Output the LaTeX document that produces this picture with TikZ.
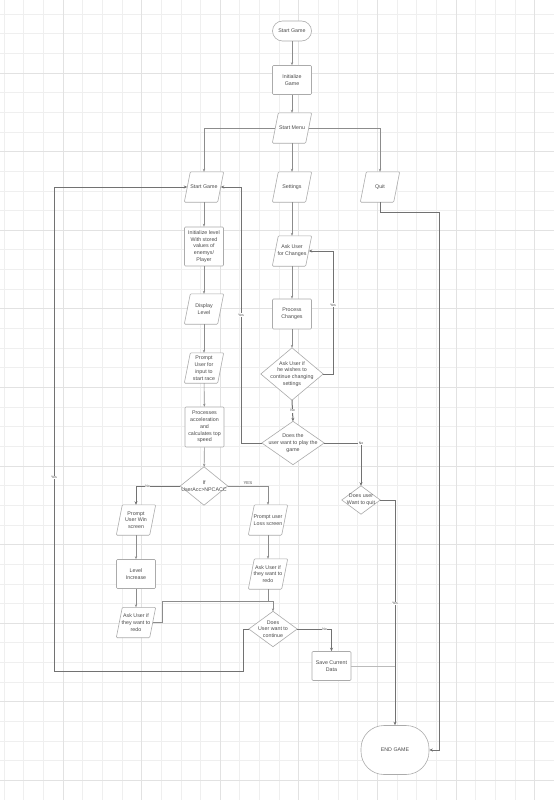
\documentclass[tikz,border=0pt]{standalone}
\usepackage{fontspec}
\setmainfont{Liberation Sans}
\usetikzlibrary{arrows.meta,calc}
\definecolor{gridminor}{HTML}{EFEFEF}
\definecolor{gridmajor}{HTML}{E2E2E2}
\definecolor{shapeline}{HTML}{ABABAB}
\definecolor{txt}{HTML}{4A4A4A}
\definecolor{connl}{HTML}{8C8C8C}
\definecolor{connd}{HTML}{727272}
\definecolor{connf}{HTML}{BBBBBB}
\pgfdeclarelayer{bg}
\pgfdeclarelayer{shapes}
\pgfsetlayers{bg,shapes,main}
\begin{document}
\begin{tikzpicture}[x=1pt,y=-1pt,
  box/.style={font=\fontsize{5.3}{6.8}\selectfont, text=txt, align=center, inner sep=0pt},
  proc/.style={box, draw=shapeline, fill=white, line width=0.6pt, rounded corners=1pt, minimum width=39pt, minimum height=29pt},
  term/.style={box, draw=shapeline, fill=white, line width=0.6pt, rounded corners=10pt, minimum width=39pt, minimum height=20pt},
  iobox/.style={box, minimum width=33pt, minimum height=30pt},
  decbox/.style={box},
  outline/.style={draw=shapeline, fill=white, line width=0.6pt},
  lconn/.style={draw=connl, line width=0.6pt, -{Stealth[length=3pt,width=2.4pt]}},
  dconn/.style={draw=connd, line width=1pt, -{Stealth[length=3.5pt,width=3pt]}},
  fconn/.style={draw=connf, line width=0.6pt},
  lab/.style={font=\fontsize{3.5}{4}\selectfont, text=txt, fill=white, inner sep=0.6pt},
  labnf/.style={font=\fontsize{4.2}{5}\selectfont, text=txt, inner sep=0.6pt}
]
\useasboundingbox (0,0) rectangle (554,800);
\begin{pgfonlayer}{bg}
  \fill[white] (0,0) rectangle (554,800);
  \foreach \k in {-3,...,24} {
    \pgfmathsetmacro\gx{63+19.65*\k}
    \draw[gridminor, line width=0.8pt] (\gx,0) -- (\gx,800);
  }
  \foreach \k in {-3,...,36} {
    \pgfmathsetmacro\gy{73+19.65*\k}
    \draw[gridminor, line width=0.8pt] (0,\gy) -- (554,\gy);
  }
  \foreach \k in {0,...,6} {
    \pgfmathsetmacro\gx{63+78.6*\k}
    \draw[gridmajor, line width=1pt] (\gx,0) -- (\gx,800);
  }
  \foreach \k in {0,...,9} {
    \pgfmathsetmacro\gy{73+78.6*\k}
    \draw[gridmajor, line width=1pt] (0,\gy) -- (554,\gy);
  }
\end{pgfonlayer}

% nodes
\node[term] (start) at (292,31) {Start Game};
\node[proc] (init) at (292,80) {Initialize\\Game};
\node[iobox] (menu) at (292,128) {Start Menu};
\node[iobox] (sg) at (204,187) {Start Game};
\node[iobox] (set) at (292,187) {Settings};
\node[iobox] (quit) at (380,187) {Quit};
\node[proc, minimum height=39pt] (ilvl) at (204,246.5) {Initialize level\\With stored\\values of\\enemys/\\Player};
\node[iobox] (disp) at (204,309) {Display\\Level};
\node[iobox] (prompt) at (204,368) {Prompt\\User for\\input to\\start race};
\node[proc, minimum height=40pt] (procacc) at (204.5,427) {Processes\\acceleration\\and\\calculates top\\speed};
\node[decbox, minimum width=47pt, minimum height=38pt] (ifd) at (204,486) {If\\UserAcc>NPCACC};
\node[iobox] (win) at (136,520) {Prompt\\User Win\\screen};
\node[proc] (lvlinc) at (136,574) {Level\\Increase};
\node[iobox] (redo1) at (136,622.5) {Ask User if\\they want to\\redo};
\node[iobox] (loss) at (268,520) {Prompt user\\Loss screen};
\node[iobox] (redo2) at (268,574) {Ask User if\\they want to\\redo};
\node[decbox, minimum width=48pt, minimum height=35pt] (cont) at (273,629) {Does\\User want to\\continue};
\node[proc] (save) at (331.5,666) {Save Current\\Data};
\node[term, minimum width=68pt, minimum height=49pt, rounded corners=23pt] (endg) at (395,750) {END GAME};
\node[iobox] (ask) at (292,251) {Ask User\\for Changes};
\node[proc, minimum height=30pt] (pchg) at (292,314) {Process\\Changes};
\node[decbox, minimum width=62pt, minimum height=52pt] (wish) at (292,374) {Ask User if\\he wishes to\\continue changing\\settings};
\node[decbox, minimum width=62pt, minimum height=43pt] (play) at (293,443) {Does the\\user want to play the\\game};
\node[decbox, minimum width=38pt, minimum height=28pt] (wquit) at (361,500) {Does user\\Want to quit};

% outlines of parallelograms and diamonds
\begin{pgfonlayer}{shapes}
  \foreach \n in {menu,sg,set,quit,disp,prompt,win,redo1,loss,redo2,ask} {
    \draw[outline, rounded corners=1pt] ([xshift=3pt]\n.north west) -- ([xshift=3pt]\n.north east)
      -- ([xshift=-3pt]\n.south east) -- ([xshift=-3pt]\n.south west) -- cycle;
  }
  \foreach \n in {ifd,cont,wish,play,wquit} {
    \draw[outline] (\n.north) -- (\n.east) -- (\n.south) -- (\n.west) -- cycle;
  }
\end{pgfonlayer}

% helper coordinates
\coordinate (mg) at (273,601);
\coordinate (cl1) at (243,671);
\coordinate (cl2) at (54,671);
\coordinate (pl) at (241,443);
\coordinate (wr) at (333,374);
\coordinate (qc) at (439,212);

% connectors
\draw[lconn] (start) -- (init);
\draw[lconn] (init) -- (menu);
\draw[lconn] (menu.west) -| (sg.north);
\draw[lconn] (menu.south) -- (set.north);
\draw[lconn] (menu.east) -| (quit.north);

\draw[lconn] (sg) -- (ilvl);
\draw[lconn] (ilvl) -- (disp);
\draw[lconn] (disp) -- (prompt);
\draw[lconn] (prompt) -- (procacc);
\draw[lconn] (procacc) -- (ifd);
\draw[dconn] (ifd.west) -| (win.north) node[lab, pos=0.37] {No};
\draw[lconn] (ifd.east) -| (loss.north) node[labnf, pos=0.25, above=0.3pt] {YES};
\draw[lconn] (win) -- (lvlinc);
\draw[lconn] (lvlinc) -- (redo1);
\draw[lconn] (loss) -- (redo2);
\draw[lconn] (redo2.south) |- (mg) -- (cont.north);
\draw[fconn, draw=connl] (redo1.east) -- ++(9.5,0) |- (mg);
\draw[dconn] (cont.west) -| (cl1) -- (cl2) |- (sg.west) node[lab, pos=0.2] {Yes};
\draw[dconn] (cont.east) -| (save.north) node[lab, pos=0.4] {No};
\draw[fconn] (save.east) -- (save.east -| endg.north);

\draw[lconn] (set) -- (ask);
\draw[lconn] (ask) -- (pchg);
\draw[lconn] (pchg) -- (wish);
\draw[dconn] (wish.east) -- (wr) |- (ask.east) node[lab, pos=0.28] {Yes};
\draw[dconn] (wish.south) -- (play.north) node[lab, midway] {No};
\draw[dconn] (play.west) -- (pl) |- (sg.east) node[lab, pos=0.25] {Yes};
\draw[dconn] (play.east) -| (wquit.north) node[lab, pos=0.5] {No};
\draw[dconn] (wquit.east) -| (endg.north) node[lab, pos=0.73] {Yes};
\draw[dconn] (quit.south) |- (qc) |- (endg.east);
\end{tikzpicture}
\end{document}
